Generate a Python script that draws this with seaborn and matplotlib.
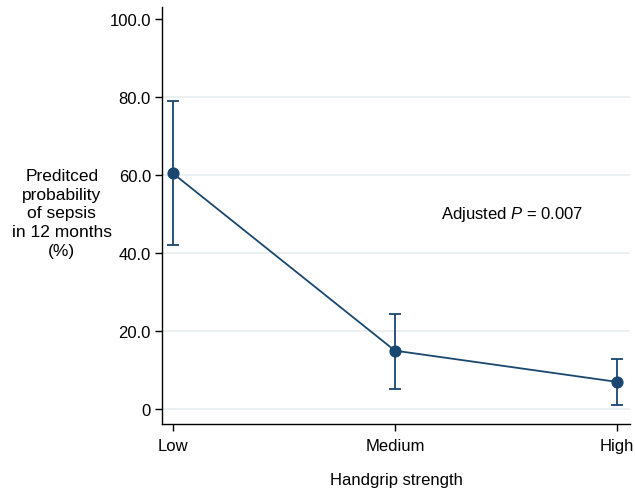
import matplotlib
matplotlib.use("Agg")
import matplotlib.pyplot as plt
import seaborn as sns
import pandas as pd

categories = ["Low", "Medium", "High"]
prob = [60.3, 14.9, 6.9]
lower = [42.0, 5.1, 1.0]
upper = [79.0, 24.4, 12.8]
yticks = [0, 20, 40, 60, 80, 100]
ytick_labels = ["0", "20.0", "40.0", "60.0", "80.0", "100.0"]

sns.set_theme(style="white")
plt.rcParams['font.family'] = ['Liberation Sans', 'DejaVu Sans']
plt.rcParams['text.color'] = 'black'
plt.rcParams['axes.labelcolor'] = 'black'
plt.rcParams['xtick.color'] = 'black'
plt.rcParams['ytick.color'] = 'black'
plt.rcParams['mathtext.fontset'] = 'custom'
plt.rcParams['mathtext.it'] = 'Liberation Sans:italic'
plt.rcParams['mathtext.rm'] = 'Liberation Sans'

df = pd.DataFrame({"cat": categories, "x": range(len(categories)), "p": prob,
                   "lo": lower, "hi": upper})

color = "#1a476f"
fig = plt.figure(figsize=(6.35, 4.89), dpi=100)
ax = fig.add_axes([0.2551, 0.1309, 0.737, 0.853])

for t in yticks[:-1]:
    ax.axhline(t, color="#e8eef0", lw=1.2, zorder=0)

ax.errorbar(df["x"], df["p"], yerr=[df["p"] - df["lo"], df["hi"] - df["p"]],
            fmt="none", ecolor=color, elinewidth=1.3, capsize=4, capthick=1.3, zorder=2)
sns.lineplot(data=df, x="x", y="p", ax=ax, color=color, lw=1.3, marker="o",
             markersize=8, markeredgecolor=color, markerfacecolor=color, zorder=3)

ax.set_xlim(-0.05, 2.06)
ax.set_ylim(-3.9, 103)
ax.set_xticks(df["x"])
ax.set_xticklabels(categories, fontsize=12)
ax.set_yticks(yticks)
ax.set_yticklabels(ytick_labels, fontsize=12)
ax.tick_params(axis="both", direction="out", length=5, width=1, color="black",
               left=True, bottom=True)
ax.tick_params(axis="x", pad=5)
ax.tick_params(axis="y", pad=3)
for s in ["top", "right"]:
    ax.spines[s].set_visible(False)
for s in ["left", "bottom"]:
    ax.spines[s].set_color("black")
    ax.spines[s].set_linewidth(1)

ax.set_xlabel("Handgrip strength", fontsize=12, labelpad=14)
ax.set_ylabel("Preditced\nprobability\nof sepsis\nin 12 months\n(%)", fontsize=12.5,
              rotation=0, ha="center", va="center", linespacing=1.3)
ax.yaxis.set_label_coords(-0.214, 0.506)

ax.text(0.596, 0.504, "Adjusted $\\it{P}$ = 0.007", transform=ax.transAxes,
        fontsize=12, ha="left", va="center")
fig.savefig("out.png", dpi=100)
